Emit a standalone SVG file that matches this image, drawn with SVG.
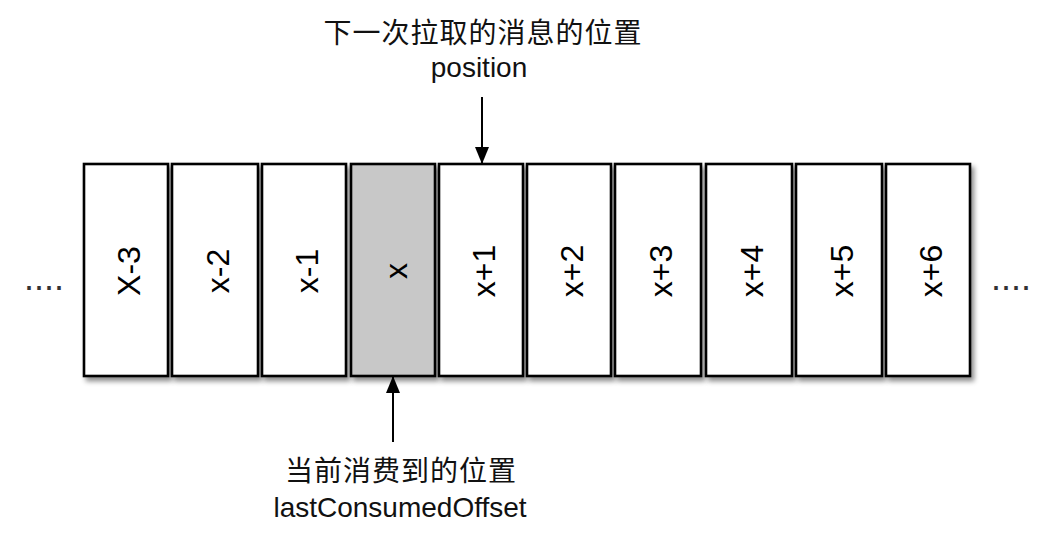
<svg xmlns="http://www.w3.org/2000/svg" width="1057" height="537" viewBox="0 0 1057 537">
<defs>
<style>
.box{fill:#fff;stroke:#000;stroke-width:2.6}
.cur{fill:#c8c8c8}
.lbl{font-family:"Liberation Sans",Arial,sans-serif;font-size:32px;fill:#000;text-anchor:middle}
.txt{font-family:"Liberation Sans","Noto Sans CJK SC",sans-serif;font-size:28px;fill:#111;text-anchor:middle}
.dots{font-family:"Liberation Sans",Arial,sans-serif;font-size:36px;fill:#333;text-anchor:middle}
.conn{stroke:#000;stroke-width:2;fill:none}
</style>
<filter id="sh" x="-20%" y="-10%" width="150%" height="130%">
<feDropShadow dx="3" dy="4" stdDeviation="2.5" flood-color="#000" flood-opacity="0.45"/>
</filter>
<marker id="ah" markerWidth="18" markerHeight="16" refX="16" refY="7" orient="auto" markerUnits="userSpaceOnUse">
<path d="M0,0 L17,7 L0,14 z" fill="#000"/>
</marker>
</defs>
<rect width="1057" height="537" fill="#fff"/>
<text class="dots" x="44" y="290">....</text>
<text class="dots" x="1011" y="290">....</text>
<g id="n1"><rect class="box" filter="url(#sh)" x="84" y="164" width="84" height="212"/><text class="lbl" transform="translate(126,271) rotate(-90)" y="14">X-3</text></g>
<g id="n2"><rect class="box" filter="url(#sh)" x="172" y="164" width="86" height="212"/><text class="lbl" transform="translate(215,271) rotate(-90)" y="14">x-2</text></g>
<g id="n3"><rect class="box" filter="url(#sh)" x="262" y="164" width="84" height="212"/><text class="lbl" transform="translate(304,271) rotate(-90)" y="14">x-1</text></g>
<g id="n4"><rect class="box cur" filter="url(#sh)" x="351" y="164" width="84" height="212"/><text class="lbl" transform="translate(393,271) rotate(-90)" y="14">x</text></g>
<g id="n5"><rect class="box" filter="url(#sh)" x="439" y="164" width="84" height="212"/><text class="lbl" transform="translate(481,271) rotate(-90)" y="14">x+1</text></g>
<g id="n6"><rect class="box" filter="url(#sh)" x="527" y="164" width="84" height="212"/><text class="lbl" transform="translate(569,271) rotate(-90)" y="14">x+2</text></g>
<g id="n7"><rect class="box" filter="url(#sh)" x="615" y="164" width="86" height="212"/><text class="lbl" transform="translate(658,271) rotate(-90)" y="14">x+3</text></g>
<g id="n8"><rect class="box" filter="url(#sh)" x="706" y="164" width="86" height="212"/><text class="lbl" transform="translate(749,271) rotate(-90)" y="14">x+4</text></g>
<g id="n9"><rect class="box" filter="url(#sh)" x="796" y="164" width="86" height="212"/><text class="lbl" transform="translate(839,271) rotate(-90)" y="14">x+5</text></g>
<g id="n10"><rect class="box" filter="url(#sh)" x="886" y="164" width="84" height="212"/><text class="lbl" transform="translate(928,271) rotate(-90)" y="14">x+6</text></g>
<g id="connectors">
<line class="conn" x1="482" y1="97" x2="482" y2="163" marker-end="url(#ah)"/>
<line class="conn" x1="393" y1="442" x2="393" y2="377" marker-end="url(#ah)"/>
</g>
<g id="labels">
<text class="txt" x="483" y="43" letter-spacing="1">下一次拉取的消息的位置</text>
<text class="txt" x="479" y="77">position</text>
<text class="txt" x="401" y="481" letter-spacing="1">当前消费到的位置</text>
<text class="txt" x="400" y="517">lastConsumedOffset</text>
</g>
</svg>
